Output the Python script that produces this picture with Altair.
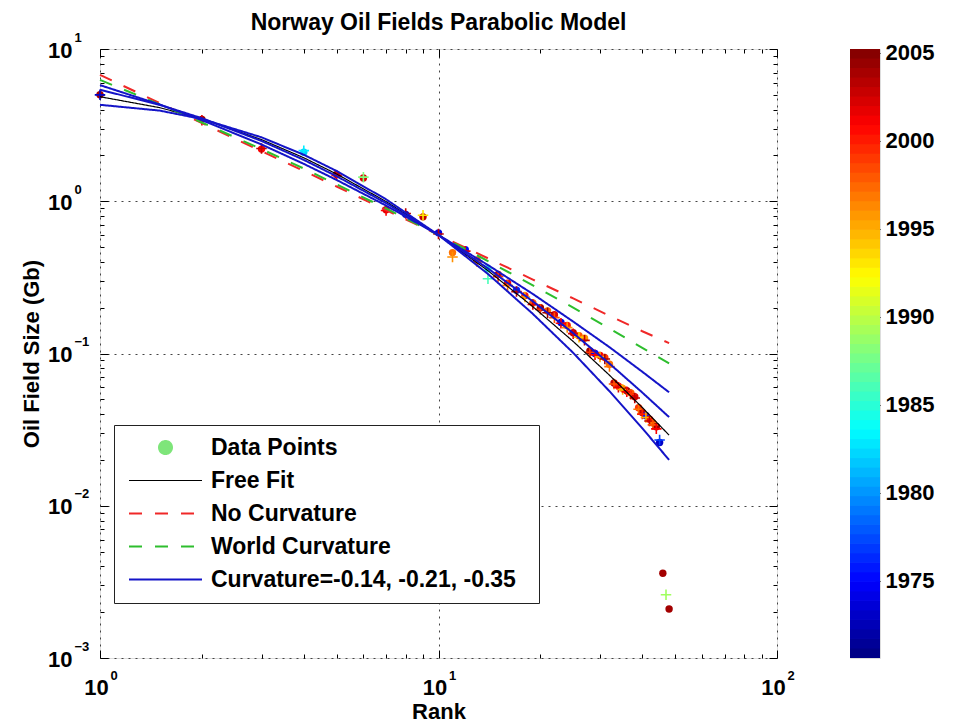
import altair as alt
import pandas as pd

FONT = "Liberation Sans"

# ---------------- data ----------------
curve_ranks = [1, 1.5, 2, 3, 4, 5, 7, 10, 14, 19, 25, 32, 40, 48]
free_fit = [4.86, 4.12, 3.48, 2.54, 1.93, 1.51, 0.996, 0.600, 0.350, 0.203, 0.120, 0.0720, 0.0442, 0.0291]
no_curvature = [6.76, 4.42, 3.26, 2.13, 1.58, 1.25, 0.875, 0.601, 0.422, 0.306, 0.230, 0.177, 0.140, 0.117]
world_curvature = [6.27, 4.33, 3.29, 2.20, 1.64, 1.29, 0.897, 0.600, 0.405, 0.280, 0.200, 0.146, 0.109, 0.0861]
curvature_014 = [5.79, 4.32, 3.41, 2.36, 1.76, 1.38, 0.937, 0.600, 0.381, 0.246, 0.162, 0.110, 0.0759, 0.0556]
curvature_021 = [5.40, 4.30, 3.51, 2.49, 1.87, 1.46, 0.973, 0.600, 0.362, 0.220, 0.136, 0.0858, 0.0554, 0.0382]
curvature_035 = [4.30, 3.94, 3.47, 2.63, 2.02, 1.58, 1.03, 0.600, 0.333, 0.182, 0.101, 0.0565, 0.0323, 0.0200]

circle_rank = list(range(1, 46)) + [46, 48]
circle_gb = [5.0, 3.45, 2.2, 2.1, 1.5, 1.42, 0.88, 0.82, 0.79, 0.62, 0.46, 0.48, 0.41, 0.36, 0.33,
             0.29, 0.26, 0.24, 0.215, 0.20, 0.19, 0.18, 0.16, 0.153, 0.137, 0.131, 0.126, 0.104,
             0.100, 0.097, 0.094, 0.085, 0.064, 0.061, 0.059, 0.057, 0.055, 0.052, 0.044, 0.041,
             0.039, 0.037, 0.035, 0.033, 0.026, 0.0036, 0.0021]
circle_year = [2004, 2004, 2001, 1982, 2003, 2002, 2002, 1973, 2003, 1974, 1997, 1975, 1999, 1985,
               2003, 2001, 1976, 2000, 1998, 2004, 1997, 2002, 1974, 2000, 2003, 1998, 1996, 2004,
               1975, 2001, 1999, 1997, 2003, 2000, 1996, 2004, 1998, 2002, 1999, 2003, 1976, 2001,
               1997, 2004, 1973, 2004, 2004]

plus_rank = list(range(1, 46)) + [47]
plus_gb = [5.0, 3.4, 2.22, 2.15, 1.48, 1.44, 0.87, 0.83, 0.81, 0.61, 0.43, 0.47, 0.40, 0.31, 0.32,
           0.28, 0.255, 0.235, 0.21, 0.195, 0.185, 0.172, 0.158, 0.148, 0.135, 0.128, 0.122, 0.102,
           0.098, 0.095, 0.092, 0.082, 0.063, 0.060, 0.058, 0.056, 0.054, 0.051, 0.043, 0.040,
           0.038, 0.036, 0.034, 0.032, 0.027, 0.0026]
plus_year = [1973, 2002, 2003, 1983, 2001, 1988, 2001, 2003, 1993, 2003, 1996, 2002, 1997, 1986,
             1999, 1997, 2003, 1995, 2002, 1999, 2004, 1998, 2001, 1996, 2002, 1994, 2003, 1999,
             2001, 1995, 2004, 1997, 1998, 2002, 1995, 2001, 1999, 2003, 1997, 2000, 1995, 2003,
             1998, 2001, 1977, 1989]

series_names = ["Data Points", "Free Fit", "No Curvature", "World Curvature",
                "Curvature=-0.14, -0.21, -0.35"]
series_colors = ["#7EE57A", "#000000", "#F02828", "#2EBE2E", "#1414C8"]
series_dashes = [[1, 0], [1, 0], [13, 13], [13, 13], [1, 0]]

year_ticks = [1975, 1980, 1985, 1990, 1995, 2000, 2005]
year_range = [1970.6, 2005.2]
jet_stops = [1970.6, 1974.93, 1983.58, 1992.23, 2000.88, 2005.2]
jet_colors = ["#00007F", "#0000FF", "#00FFFF", "#FFFF00", "#FF0000", "#7F0000"]
n_bands = 64

x_major = [1, 10, 100]
x_minor = [2, 3, 4, 5, 6, 7, 8, 9, 20, 30, 40, 50, 60, 70, 80, 90]
y_major = [0.001, 0.01, 0.1, 1, 10]
y_minor = [m * d for d in [0.001, 0.01, 0.1, 1] for m in range(2, 10)]

# ---------------- tables ----------------
curve_rows = []
for name, cid, vals in [
    (series_names[1], "free", free_fit),
    (series_names[2], "none", no_curvature),
    (series_names[3], "world", world_curvature),
    (series_names[4], "c014", curvature_014),
    (series_names[4], "c021", curvature_021),
    (series_names[4], "c035", curvature_035),
]:
    for r, v in zip(curve_ranks, vals):
        curve_rows.append({"rank": r, "gb": v, "series": name, "cid": cid})
curves = pd.DataFrame(curve_rows)
circles_df = pd.DataFrame({"rank": circle_rank, "gb": circle_gb, "year": circle_year})
plus_df = pd.DataFrame({"rank": plus_rank, "gb": plus_gb, "year": plus_year})

# colour key bands (the colorbar); bands overlap slightly to avoid seams
step = (year_range[1] - year_range[0]) / n_bands
cbar_df = pd.DataFrame({
    "y0": [year_range[0] + i * step for i in range(n_bands)],
    "y1": [min(year_range[1], year_range[0] + (i + 1) * step + 0.04) for i in range(n_bands)],
    "ym": [year_range[0] + (i + 0.5) * step for i in range(n_bands)],
    "x0": [0] * n_bands,
    "x1": [1] * n_bands,
})

# ---------------- scales / axes / legends ----------------
x_scale = alt.Scale(type="log", domain=[1, 100], nice=False)
y_scale = alt.Scale(type="log", domain=[0.001, 10], nice=False)
color_scale = alt.Scale(domain=jet_stops, range=jet_colors, interpolate="rgb")

exp_expr = "format(round(log(datum.value) / LN10), 'd')"

common_tick = dict(domain=False, tickColor="black", tickWidth=1)
txt = dict(labelFontWeight="bold", labelColor="black", labelFont=FONT, labelFlush=False,
           labelOverlap=False)

ax_bottom_major = alt.Axis(orient="bottom", values=x_major, labelExpr="'10'", grid=True,
                           gridDash=[2, 5], gridColor="#444444", gridWidth=1, tickSize=8, offset=-8,
                           labelFontSize=22, labelBaseline="middle", labelAlign="center",
                           labelPadding=29, labelOffset=-4, titleFontSize=22,
                           titleFontWeight="bold", titleFont=FONT, titleColor="black",
                           titlePadding=3, **txt, **common_tick)
ax_left_major = alt.Axis(orient="left", values=y_major, labelExpr="'10'", grid=True,
                         gridDash=[2, 5], gridColor="#444444", gridWidth=1, tickSize=8, offset=-8,
                         labelFontSize=22, labelBaseline="middle", labelAlign="right",
                         labelPadding=28, labelOffset=1, titleFontSize=22, titleFontWeight="bold",
                         titleFont=FONT, titleColor="black", titlePadding=4, **txt, **common_tick)
ax_bottom_exp = alt.Axis(orient="bottom", values=x_major, labelExpr=exp_expr, ticks=False,
                         tickSize=0, grid=False, labelFontSize=13, labelAlign="left",
                         labelBaseline="middle", labelPadding=17, labelOffset=10, **txt,
                         **common_tick)
ax_left_exp = alt.Axis(orient="left", values=y_major, labelExpr=exp_expr, ticks=False,
                       tickSize=0, grid=False, labelFontSize=13, labelAlign="left",
                       labelBaseline="middle", labelPadding=26, labelOffset=-12, **txt,
                       **common_tick)
ax_bottom_minor = alt.Axis(orient="bottom", values=x_minor, labels=False, grid=False,
                           tickSize=4, offset=-4, **common_tick)
ax_left_minor = alt.Axis(orient="left", values=y_minor, labels=False, grid=False,
                         tickSize=4, offset=-4, **common_tick)
ax_top_major = alt.Axis(orient="top", values=x_major, labels=False, grid=False,
                        tickSize=8, offset=-8, **common_tick)
ax_right_major = alt.Axis(orient="right", values=y_major, labels=False, grid=False,
                          tickSize=8, offset=-8, **common_tick)
ax_top_minor = alt.Axis(orient="top", values=x_minor, labels=False, grid=False,
                        tickSize=4, offset=-4, **common_tick)
ax_right_minor = alt.Axis(orient="right", values=y_minor, labels=False, grid=False,
                          tickSize=4, offset=-4, **common_tick)

shape_expr = ("datum.value === 'Data Points' ? "
              "'M0.65,0A0.65,0.65,0,1,1,-0.65,0A0.65,0.65,0,1,1,0.65,0Z' : 'M-3.65,0L3.65,0'")
fill_expr = "datum.value === 'Data Points' ? '#7EE57A' : 'transparent'"
sw_expr = "datum.value === 'Free Fit' ? 1.2 : 2"
series_legend = alt.Legend(
    orient="none", legendX=14, legendY=376, title=" ", titleOrient="right", titlePadding=12,
    titleFontSize=23, padding=11, strokeColor="#222222",
    fillColor="white", rowPadding=9, symbolSize=400, symbolOffset=29, labelOffset=34,
    symbolStrokeWidth=alt.ExprRef(expr=sw_expr), symbolType=alt.ExprRef(expr=shape_expr),
    symbolFillColor=alt.ExprRef(expr=fill_expr),
    labelFontSize=23, labelFontWeight="bold",
    labelColor="black", labelFont=FONT, labelLimit=500,
)
stroke_enc = alt.Stroke("series:N", scale=alt.Scale(domain=series_names, range=series_colors),
                        legend=series_legend)
dash_enc = alt.StrokeDash("series:N", scale=alt.Scale(domain=series_names, range=series_dashes),
                          legend=series_legend)

# ---------------- main panel ----------------
circles = alt.Chart(circles_df).mark_circle(size=55, opacity=1).encode(
    x=alt.X("rank:Q", scale=x_scale, axis=ax_bottom_major, title="Rank"),
    y=alt.Y("gb:Q", scale=y_scale, axis=ax_left_major, title="Oil Field Size (Gb)"),
    color=alt.Color("year:Q", scale=color_scale, legend=None),
)
pluses = alt.Chart(plus_df).mark_point(shape="M-1,0L1,0M0,-1L0,1", size=110, strokeWidth=1.6,
                                       filled=False, opacity=1).encode(
    x=alt.X("rank:Q", scale=x_scale, axis=ax_bottom_minor, title=None),
    y=alt.Y("gb:Q", scale=y_scale, axis=ax_left_minor, title=None),
    color=alt.Color("year:Q", scale=color_scale, legend=None),
)


def curve_layer(cids, width, xaxis, yaxis):
    enc = dict(stroke=stroke_enc, strokeDash=dash_enc, detail="cid:N")
    enc["x"] = alt.X("rank:Q", scale=x_scale, title=None, axis=xaxis) if xaxis is not None \
        else alt.X("rank:Q", scale=x_scale, title=None, axis=None)
    enc["y"] = alt.Y("gb:Q", scale=y_scale, title=None, axis=yaxis) if yaxis is not None \
        else alt.Y("gb:Q", scale=y_scale, title=None, axis=None)
    return alt.Chart(curves).transform_filter(
        alt.FieldOneOfPredicate(field="cid", oneOf=cids)
    ).mark_line(strokeWidth=width).encode(**enc)


black = curve_layer(["free"], 1.2, ax_top_major, ax_right_major)
red = curve_layer(["none"], 2, ax_top_minor, ax_right_minor)
green = curve_layer(["world"], 2, ax_bottom_exp, ax_left_exp)
blue = curve_layer(["c014", "c021", "c035"], 2, None, None)

main = alt.layer(circles, pluses, black, red, green, blue).resolve_axis(
    x="independent", y="independent"
).properties(
    width=677, height=609,
    title=alt.TitleParams("Norway Oil Fields Parabolic Model", fontSize=23, fontWeight="bold",
                          font=FONT, color="black", offset=-4, anchor="middle"),
)

# ---------------- colorbar panel ----------------
cbar = alt.Chart(cbar_df).mark_rect(strokeWidth=0).encode(
    x=alt.X("x0:Q", scale=alt.Scale(domain=[0, 1], nice=False, zero=False), axis=None),
    x2="x1:Q",
    y=alt.Y("y0:Q", scale=alt.Scale(domain=year_range, nice=False, zero=False), title=None,
            axis=alt.Axis(orient="right", values=year_ticks, format="d", tickSize=5, offset=-5,
                          labelPadding=5, labelFontSize=22, labelFontWeight="bold",
                          labelColor="black", labelFont=FONT, labelFlush=False,
                          labelOverlap=False, grid=False, **common_tick)),
    y2="y1:Q",
    color=alt.Color("ym:Q", scale=color_scale, legend=None),
).properties(width=30, height=609)

chart = alt.hconcat(main, cbar, spacing=73, bounds="flush").properties(
    autosize=alt.AutoSizeParams(type="pad"),
    padding={"left": 12, "top": 3, "right": 5, "bottom": 4},
).configure_view(stroke="black", strokeWidth=1).configure(font=FONT, background="white")

chart.save("out.html", embed_options={"renderer": "svg", "actions": False})
